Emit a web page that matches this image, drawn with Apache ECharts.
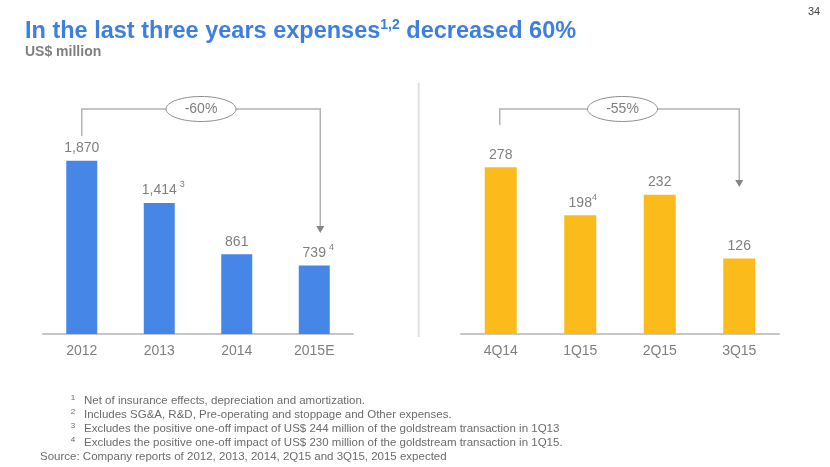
<!DOCTYPE html>
<html><head><meta charset="utf-8">
<script src="https://cdn.jsdelivr.net/npm/echarts@6/dist/echarts.min.js"></script>
<style>html,body{margin:0;padding:0;background:#fff}#c{width:830px;height:467px}</style>
</head><body><div id="c"></div>
<script>
// ---- data ----
const yearCats = ['2012', '2013', '2014', '2015E'];
const yearVals = [1870, 1414, 861, 739];
const yearSups = ['', '3', '', '4'];
const yearSupSpaced = [false, true, false, true];
const qCats = ['4Q14', '1Q15', '2Q15', '3Q15'];
const qVals = [278, 198, 232, 126];
const qSups = ['', '4', '', ''];
const qSupSpaced = [false, false, false, false];
const leftChange = '-60%';
const rightChange = '-55%';
const titleMain = 'In the last three years expenses';
const titleSup = '1,2';
const titleEnd = ' decreased 60%';
const unitText = 'US$ million';
const pageNo = '34';
const footSups = ['1', '2', '3', '4'];
const footTexts = [
  'Net of insurance effects, depreciation and amortization.',
  'Includes SG&A, R&D, Pre-operating and stoppage and Other expenses.',
  'Excludes the positive one-off impact of US$ 244 million of the goldstream transaction in 1Q13',
  'Excludes the positive one-off impact of US$ 230 million of the goldstream transaction in 1Q15.'
];
const sourceText = 'Source: Company reports of 2012, 2013, 2014, 2Q15 and 3Q15, 2015 expected';

// ---- styles ----
const FONT = 'Liberation Sans, Arial, sans-serif';
const BLUE = '#4586e6';
const YELLOW = '#fbbc1b';
const LABEL = '#7f7f7f';
const TITLE_BLUE = '#3d7fe0';
const NOTE = '#6b6b6b';

const chart = echarts.init(document.getElementById('c'));

function labelFormatter(vals, sups, spaced) {
  return function (p) {
    const i = p.dataIndex;
    const txt = vals[i].toLocaleString('en-US');
    if (!sups[i]) return '{v|' + txt + '}';
    const k = spaced[i] ? 'w' : 'n';
    return '{p' + k + '|}{v|' + txt + '}{s' + k + '|' + sups[i] + '}';
  };
}
const richLabel = {
  v: { fontSize: 14, color: LABEL, fontFamily: FONT, lineHeight: 20 },
  pw: { width: 8, lineHeight: 20 },
  pn: { width: 5, lineHeight: 20 },
  sw: { width: 8, fontSize: 9, color: LABEL, fontFamily: FONT, align: 'right', verticalAlign: 'top', lineHeight: 10 },
  sn: { width: 5, fontSize: 9, color: LABEL, fontFamily: FONT, align: 'left', verticalAlign: 'top', lineHeight: 10 }
};

function xAxisCfg(grid, cats) {
  return {
    type: 'category', gridIndex: grid, data: cats,
    axisTick: { show: false },
    axisLine: { lineStyle: { color: '#c6c6c6', width: 2 } },
    axisLabel: { color: LABEL, fontSize: 14, fontFamily: FONT, margin: 10 }
  };
}
function yAxisCfg(grid, max) {
  return { type: 'value', gridIndex: grid, min: 0, max: max, show: false, splitLine: { show: false } };
}

chart.setOption({
  animation: false,
  title: [{
    text: '{a|' + titleMain + '}{b|' + titleSup + '}{a|' + titleEnd + '}',
    left: 25, top: 18, padding: 0,
    textStyle: {
      rich: {
        a: { fontSize: 23.5, fontWeight: 'bold', color: TITLE_BLUE, fontFamily: FONT, lineHeight: 28 },
        b: { fontSize: 14, fontWeight: 'bold', color: TITLE_BLUE, fontFamily: FONT, lineHeight: 14, verticalAlign: 'top' }
      }
    }
  }, {
    text: unitText, left: 25, top: 45, padding: 0,
    textStyle: { fontSize: 14, fontWeight: 'bold', color: LABEL, fontFamily: FONT }
  }, {
    text: pageNo, left: 808, top: 6, padding: 0,
    textStyle: { fontSize: 11, fontWeight: 'normal', color: '#404040', fontFamily: FONT }
  }],
  grid: [
    { left: 43, right: 477, top: 148.6, bottom: 133 },
    { left: 461, right: 51, top: 154, bottom: 133 }
  ],
  xAxis: [xAxisCfg(0, yearCats), xAxisCfg(1, qCats)],
  yAxis: [yAxisCfg(0, 2000), yAxisCfg(1, 300)],
  series: [{
    type: 'bar', xAxisIndex: 0, yAxisIndex: 0, data: yearVals, barWidth: 31,
    itemStyle: { color: BLUE },
    label: { show: true, position: 'top', distance: 2.5, formatter: labelFormatter(yearVals, yearSups, yearSupSpaced), rich: richLabel }
  }, {
    type: 'bar', xAxisIndex: 1, yAxisIndex: 1, data: qVals, barWidth: 32,
    itemStyle: { color: YELLOW },
    label: { show: true, position: 'top', distance: 2.5, formatter: labelFormatter(qVals, qSups, qSupSpaced), rich: richLabel }
  }]
});

// ---- annotations (brackets, ellipses, divider, footnotes) ----
const LINE = '#b3b3b3';
const ARROW = '#858585';
const bracketY = 109;
function bracket(xa, ya, xb, tipY, text, offset) {
  const cx = (xa + xb) / 2 + offset;
  return [
    { type: 'polyline', z: 10, shape: { points: [[xa, ya], [xa, bracketY], [xb, bracketY], [xb, tipY - 6]] },
      style: { stroke: LINE, lineWidth: 1.5, fill: null } },
    { type: 'polygon', z: 11, shape: { points: [[xb - 4, tipY - 7], [xb + 4, tipY - 7], [xb, tipY]] },
      style: { fill: ARROW } },
    { type: 'ellipse', z: 12, shape: { cx: cx, cy: bracketY, rx: 35, ry: 12.5 },
      style: { fill: '#fff', stroke: '#8c8c8c', lineWidth: 1 } },
    { type: 'text', z: 13, x: cx, y: bracketY,
      style: { text: text, align: 'center', verticalAlign: 'middle', fontSize: 14, fontFamily: FONT, fill: LABEL } }
  ];
}
const lx1 = chart.convertToPixel({ xAxisIndex: 0 }, yearCats[0]);
const lx2 = chart.convertToPixel({ xAxisIndex: 0 }, yearCats[3]) + 6;
const rx1 = chart.convertToPixel({ xAxisIndex: 1 }, qCats[0]) - 1;
const rx2 = chart.convertToPixel({ xAxisIndex: 1 }, qCats[3]);

const g = [];
g.push(...bracket(lx1, 136, lx2, 233, leftChange, 0));
g.push(...bracket(rx1, 125, rx2, 187, rightChange, 3));
g.push({ type: 'line', shape: { x1: 418.7, y1: 83, x2: 418.7, y2: 337 }, style: { stroke: '#e0e0e0', lineWidth: 2 } });
const footY = [400.5, 414.5, 428.5, 442.5];
footTexts.forEach((t, i) => {
  g.push({ type: 'text', x: 73, y: footY[i] - 3, style: { text: footSups[i], align: 'center', verticalAlign: 'middle', fontSize: 8, fontFamily: FONT, fill: NOTE } });
  g.push({ type: 'text', x: 84, y: footY[i], style: { text: t, align: 'left', verticalAlign: 'middle', fontSize: 11.5, fontFamily: FONT, fill: NOTE } });
});
g.push({ type: 'text', x: 40, y: 456.5, style: { text: sourceText, align: 'left', verticalAlign: 'middle', fontSize: 11.5, fontFamily: FONT, fill: NOTE } });
chart.setOption({ graphic: g });
</script>
</body></html>
